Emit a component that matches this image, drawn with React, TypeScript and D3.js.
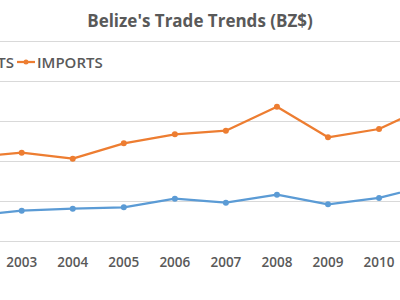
import React from "react";
import * as d3 from "d3";

const years = [2002, 2003, 2004, 2005, 2006, 2007, 2008, 2009, 2010, 2011];
const imports = [1045, 1104, 1029, 1221, 1334, 1379, 1679, 1296, 1400, 1695];
const exportsV = [313, 379, 404, 421, 529, 479, 579, 459, 538, 700];
const yTicks = [0, 500, 1000, 1500, 2000, 2500];
const title = "Belize's Trade Trends (BZ$)";
const seriesNames = ["EXPORTS", "IMPORTS"];

const W = 400, H = 300;
const FONT = "'Open Sans', sans-serif";
const TXT = "#595959";

export default function App() {
  const x = d3.scaleLinear().domain([2003, 2010]).range([21.7, 379.05]);
  const y = d3.scaleLinear().domain([0, 2500]).range([241, 41]);
  const line = d3.line<number>().x((_, i) => x(years[i])).y((d) => y(d));
  const series = [
    { name: seriesNames[0], values: exportsV, color: "#5B9BD5" },
    { name: seriesNames[1], values: imports, color: "#ED7D31" },
  ];
  const visibleYears = years.filter((yr) => x(yr) > 0 && x(yr) < W);
  return (
    <svg width={W} height={H} style={{ position: "absolute", left: 0, top: 0, background: "#fff" }}>
      {yTicks.map((t) => (
        <line key={t} x1={0} x2={W} y1={Math.round(y(t)) + 0.5} y2={Math.round(y(t)) + 0.5}
          stroke="#d9d9d9" strokeWidth={1} />
      ))}
      {series.map((s) => (
        <g key={s.name}>
          <path d={line(s.values) || ""} fill="none" stroke={s.color} strokeWidth={2.25} strokeLinejoin="round" />
          {s.values.map((v, i) => (
            <circle key={i} cx={x(years[i])} cy={y(v)} r={3} fill={s.color} />
          ))}
        </g>
      ))}
      {visibleYears.map((yr) => (
        <text key={yr} x={x(yr)} y={267} textAnchor="middle" fontFamily={FONT} fontSize={13.5}
          fontWeight={600} fill={TXT}>{yr}</text>
      ))}
      <rect x={0} y={45} width={120} height={28} fill="#fff" />
      <g>
        <text x={14} y={67.5} textAnchor="end" fontFamily={FONT} fontSize={15} fontWeight={600} fill={TXT}>
          {series[0].name}
        </text>
        <line x1={17} x2={35} y1={62} y2={62} stroke={series[1].color} strokeWidth={2.25} />
        <circle cx={26} cy={62} r={2.5} fill={series[1].color} />
        <text x={37} y={67.5} fontFamily={FONT} fontSize={15} fontWeight={600} fill={TXT}>
          {series[1].name}
        </text>
      </g>
      <text x={200} y={27} textAnchor="middle" fontFamily={FONT} fontSize={17} fontWeight={700} fill={TXT}>
        {title}
      </text>
    </svg>
  );
}
